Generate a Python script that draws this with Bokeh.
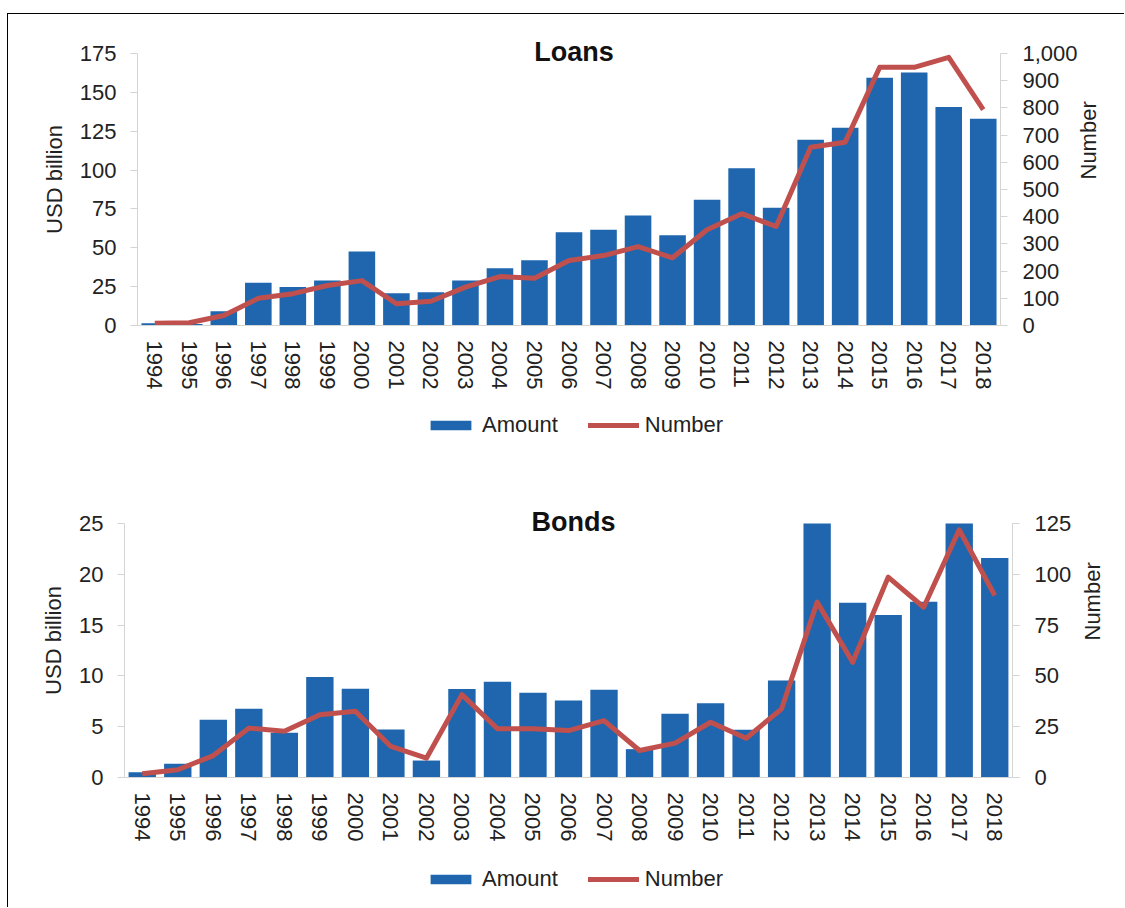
import math
from bokeh.plotting import figure
from bokeh.models import (ColumnDataSource, Range1d, LinearAxis, FactorRange, Legend, LegendItem,
                          FixedTicker, NumeralTickFormatter, Label)
from bokeh.layouts import column, row
from bokeh.embed import file_html
from bokeh.resources import INLINE

years = [str(y) for y in range(1994, 2019)]

loans_amount = [1.5, 1.0, 9.2, 27.5, 24.7, 29.0, 47.6, 20.8, 21.4, 29.0, 36.9, 42.0, 60.0,
                61.6, 70.8, 58.1, 80.9, 101.2, 75.7, 119.5, 127.2, 159.4, 162.8, 140.5, 133.0]
loans_number = [8, 10, 37, 100, 117, 147, 165, 80, 89, 141, 180, 174, 239,
                257, 290, 249, 352, 411, 364, 655, 674, 949, 949, 986, 794]

bonds_amount = [0.52, 1.35, 5.68, 6.76, 4.4, 9.9, 8.73, 4.72, 1.67, 8.7, 9.42, 8.34, 7.58,
                8.63, 2.79, 6.27, 7.31, 4.69, 9.55, 25.0, 17.2, 16.0, 17.3, 25.0, 21.6]
bonds_number = [1.8, 3.8, 10.8, 24.3, 22.8, 30.9, 32.6, 15.3, 9.5, 40.8, 24.0, 24.0, 23.1,
                28.0, 13.3, 16.9, 27.2, 19.3, 33.8, 86.3, 56.7, 98.6, 83.8, 121.9, 89.6]

BAR = "#1F66AE"
LINE = "#C0504D"
FONT = "Liberation Sans"
TXT = "#222222"
AX = "#D4D4D4"
FS = "22px"
W = 1116
HEAD = 20  # px of headroom above the axis top, for the title


def style_axis(ax):
    ax.axis_line_color = AX
    ax.major_tick_line_color = AX
    ax.minor_tick_line_color = None
    ax.major_tick_in = 0
    ax.major_tick_out = 7
    ax.major_label_text_font = FONT
    ax.major_label_text_font_size = FS
    ax.major_label_text_color = TXT
    ax.axis_label_text_font = FONT
    ax.axis_label_text_font_size = FS
    ax.axis_label_text_color = TXT
    ax.axis_label_text_font_style = "normal"
    ax.major_label_standoff = 14


def make_chart(title, src, ymax, ystep, nmax, nstep, h, axis_h, bl, bt, br, bb,
               rlabel_standoff, num_fmt=None):
    k = (axis_h + HEAD) / axis_h
    p = figure(x_range=FactorRange(*years), y_range=Range1d(0, ymax * k),
               width=W, height=h,
               min_border_left=bl, min_border_top=bt, min_border_right=br, min_border_bottom=bb,
               output_backend="svg", toolbar_location=None)
    p.extra_y_ranges = {"num": Range1d(0, nmax * k)}
    p.outline_line_color = None
    p.grid.visible = False
    p.background_fill_color = "white"
    p.border_fill_color = "white"

    p.vbar(x="year", top="amount", width=0.77, source=src, fill_color=BAR, line_color=None)
    p.line(x="year", y="number", source=src, y_range_name="num",
           line_color=LINE, line_width=5, line_join="round")

    yl = p.yaxis[0]
    style_axis(yl)
    yl.ticker = FixedTicker(ticks=list(range(0, ymax + 1, ystep)))
    yl.bounds = (0, ymax)
    yl.axis_label = "USD billion"
    yl.axis_label_standoff = 10

    yr = LinearAxis(y_range_name="num", axis_label="Number")
    style_axis(yr)
    yr.ticker = FixedTicker(ticks=list(range(0, nmax + 1, nstep)))
    yr.bounds = (0, nmax)
    yr.major_label_standoff = 15
    yr.axis_label_standoff = rlabel_standoff
    yr.axis_label_orientation = math.pi / 2
    if num_fmt:
        yr.formatter = NumeralTickFormatter(format=num_fmt)
    p.add_layout(yr, "right")

    xa = p.xaxis[0]
    style_axis(xa)
    xa.major_tick_line_color = None
    xa.major_tick_out = 0
    xa.major_label_orientation = "vertical"
    xa.major_label_standoff = 15

    p.add_layout(Label(x=12.5, y=ymax, text=title, text_align="center", text_baseline="middle",
                       x_offset=5, y_offset=2,
                       text_font=FONT, text_font_size="27px", text_font_style="bold",
                       text_color="#111111"))
    return p


def make_legend(src, h, y, bl, br, frame_left_page):
    # legend-only strip: its glyphs are zero-sized and far outside its y range,
    # so only the legend entries are visible
    lp = figure(width=W, height=h, x_range=FactorRange(*years), y_range=Range1d(-20000, -10000),
                min_border_left=bl, min_border_right=br, min_border_top=0, min_border_bottom=0,
                x_axis_location=None, y_axis_location=None,
                output_backend="svg", toolbar_location=None)
    lp.outline_line_color = None
    lp.grid.visible = False
    r1 = lp.vbar(x="year", bottom="amount", top="amount", width=0, source=src,
                 fill_color=BAR, line_color=None)
    r2 = lp.line(x="year", y="number", source=src, line_color=LINE, line_width=5, line_cap="round")
    leg = Legend(items=[LegendItem(label="Amount", renderers=[r1]),
                        LegendItem(label="Number", renderers=[r2])],
                 orientation="horizontal", location=(425 - frame_left_page, y),
                 glyph_width=51, glyph_height=12, label_standoff=6, spacing=30,
                 padding=0, margin=0, border_line_color=None,
                 background_fill_alpha=0, label_text_font=FONT, label_text_font_size=FS,
                 label_text_color=TXT, label_height=22)
    lp.add_layout(leg, "center")
    return lp


src1 = ColumnDataSource(dict(year=years, amount=loans_amount, number=loans_number))
src2 = ColumnDataSource(dict(year=years, amount=bonds_amount, number=bonds_number))

p1 = make_chart("Loans", src1, 175, 25, 1000, 100, 395, 272, 129, 19, 124, 84, 8, num_fmt="0,0")
l1 = make_legend(src1, 36, 7, 129, 124, 137)
p2 = make_chart("Bonds", src2, 25, 5, 125, 25, 410, 254, 116, 58, 112, 78, 18)
l2 = make_legend(src2, 52, 15, 116, 112, 124)

layout = column(row(p1), row(l1), row(p2), row(l2), margin=(13, 0, 0, 7), spacing=0,
                styles={"border-top": "1px solid black", "border-left": "1px solid black"})

open("out.html", "w").write(file_html(layout, INLINE))
